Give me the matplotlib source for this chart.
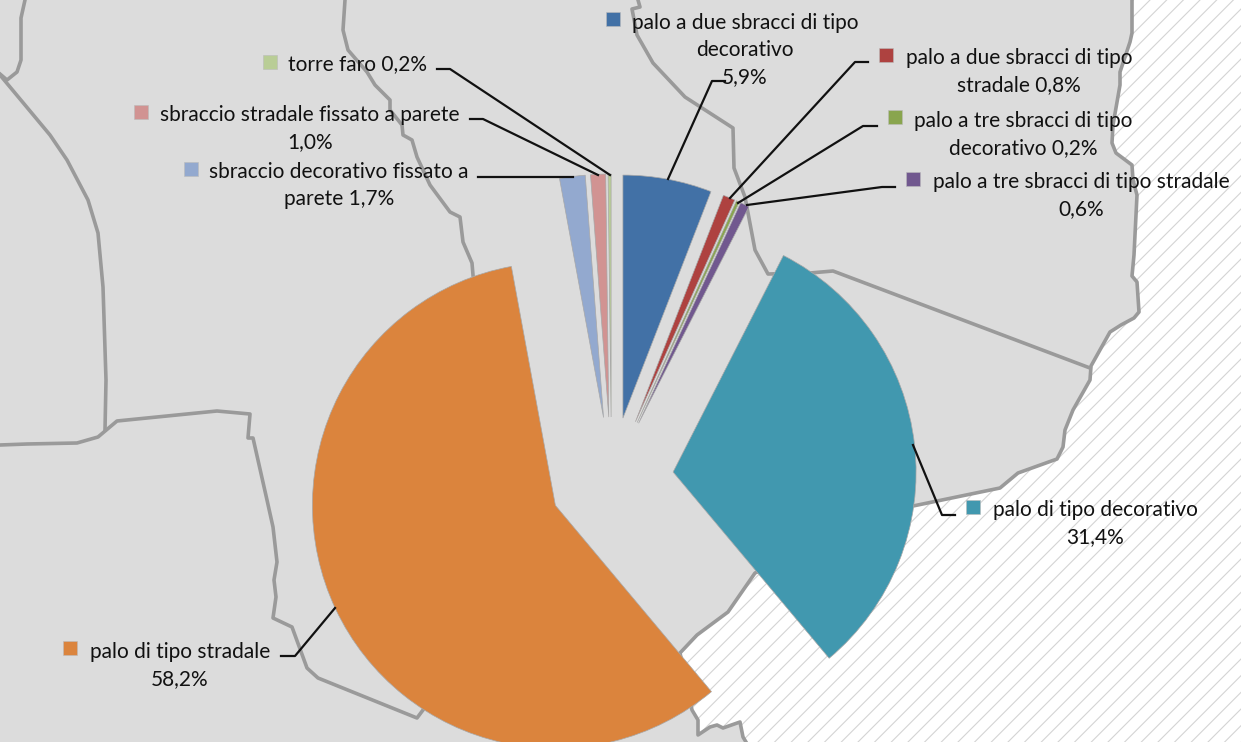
import matplotlib
matplotlib.use('Agg')
import matplotlib.pyplot as plt
from matplotlib.patches import Polygon, Rectangle

plt.rcParams['font.family'] = ['Lato', 'DejaVu Sans']
plt.rcParams['hatch.linewidth'] = 0.8

# Chart data
categories = ['palo a due sbracci di tipo\ndecorativo', 'palo a due sbracci di tipo\nstradale',
              'palo a tre sbracci di tipo\ndecorativo', 'palo a tre sbracci di tipo stradale',
              'palo di tipo decorativo', 'palo di tipo stradale',
              'sbraccio decorativo fissato a\nparete', 'sbraccio stradale fissato a parete',
              'torre faro']
values = [5.9, 0.8, 0.2, 0.6, 31.4, 58.2, 1.7, 1.0, 0.2]
value_sep = ['\n', ' ', ' ', '\n', '\n', '\n', ' ', '\n', ' ']
colors = ['#4271A6', '#AE4240', '#89A54E', '#71588F', '#4198AF', '#DB843D', '#93A9CF', '#D19392', '#B9CD96']

# Label layout, in pixels of the picture
label_x = [745, 1019, 1023, 1081, 1095, 180, 339, 310, 358]
label_y = [13, 48, 111, 172, 500, 642, 162, 105, 54]
key_x = [613, 886, 895, 913, 973, 70, 191, 141, 270]
key_y = [19, 55, 117, 179, 507, 648, 169, 112, 62]
leaders = [[(668, 179), (712, 81), (725, 81)],
           [(730, 198), (855, 62), (868, 62)],
           [(738, 203), (863, 126), (877, 126)],
           [(747, 205), (882, 187), (895, 187)],
           [(913, 445), (942, 515), (955, 515)],
           [(335, 608), (295, 656), (281, 656)],
           [(573, 177), (491, 177), (478, 177)],
           [(598, 175), (483, 119), (470, 119)],
           [(610, 175), (450, 69), (437, 69)]]

# Map in the background
land_color = '#DCDCDC'
border_color = '#9A9A9A'
coast = [(1132, 0), (1132, 33), (1130, 42), (1120, 72), (1120, 85), (1113, 125), (1112, 143), (1116, 153),
         (1132, 165), (1133, 180), (1137, 195), (1134, 255), (1132, 276), (1137, 282), (1139, 312), (1134, 318),
         (1121, 325), (1110, 332), (1091, 366), (1090, 380), (1073, 410), (1065, 430), (1063, 447), (1057, 459),
         (1018, 473), (1000, 488), (913, 506), (755, 573), (728, 612), (697, 635), (680, 653), (692, 710),
         (698, 720), (698, 735), (710, 727), (717, 725), (723, 728), (740, 722), (743, 737), (746, 742)]
borders = [[(25, 0), (21, 18), (21, 60), (17, 72), (7, 80), (0, 74)],
           [(0, 75), (50, 135), (67, 160), (88, 200), (98, 233), (103, 287), (106, 380), (105, 430)],
           [(0, 445), (27, 444), (77, 443), (98, 437), (117, 421), (217, 411), (250, 414), (248, 438), (253, 438),
            (267, 500), (273, 527), (277, 562), (274, 580), (276, 597), (273, 618), (292, 627), (307, 668),
            (318, 678), (417, 718), (423, 710)],
           [(345, 0), (343, 30), (348, 50), (367, 72), (375, 85), (390, 100), (390, 110), (402, 125), (403, 135),
            (412, 140), (417, 157), (430, 185), (450, 212), (460, 217), (463, 242), (472, 263), (473, 275)],
           [(638, 0), (640, 7), (632, 9), (637, 35), (653, 63), (685, 97), (733, 128), (734, 168), (745, 197),
            (755, 250), (768, 274), (810, 273), (833, 271), (1090, 368)]]

fig = plt.figure(figsize=(12.41, 7.42), dpi=100)
ax = fig.add_axes([0, 0, 1, 1])

# Sea, then land on top of it
ax.add_patch(Rectangle((0, 0), 1241, 742, facecolor='white', edgecolor='#D4D4D4', hatch='//', linewidth=0, zorder=0))
ax.add_patch(Polygon(coast + [(0, 742), (0, 0)], closed=True, facecolor=land_color, edgecolor='none', zorder=1))
xs, ys = zip(*coast)
ax.plot(xs, ys, color=border_color, linewidth=2.6, solid_joinstyle='round', zorder=2)
for line in borders:
    xs, ys = zip(*line)
    ax.plot(xs, ys, color=border_color, linewidth=2.6, solid_joinstyle='round', zorder=2)

# y axis runs downwards, so counterclock in data is clockwise on screen
wedges, _ = ax.pie(values, colors=colors, explode=[62] * len(values), center=(611.5, 479), radius=243,
                   startangle=270, counterclock=True, frame=True,
                   wedgeprops={'edgecolor': '#A8A8A8', 'linewidth': 0.5})
for w in wedges:
    w.set_zorder(3)

ax.set_xlim(0, 1241)
ax.set_ylim(742, 0)
ax.axis('off')

for i, cat in enumerate(categories):
    pct = f"{values[i]:.1f}%".replace('.', ',')
    ax.text(label_x[i], label_y[i], cat + value_sep[i] + pct, ha='center', va='top', multialignment='center',
            fontsize=15, linespacing=1.45, color='#111111', zorder=5)
    ax.plot(key_x[i], key_y[i], marker='s', markersize=9.6, color=colors[i], markeredgecolor='#BBBBBB',
            markeredgewidth=0.4, linestyle='none', zorder=5)
    xs, ys = zip(*leaders[i])
    ax.plot(xs, ys, color='#111111', linewidth=1.6, zorder=4)

fig.savefig('out.png', dpi=100)
